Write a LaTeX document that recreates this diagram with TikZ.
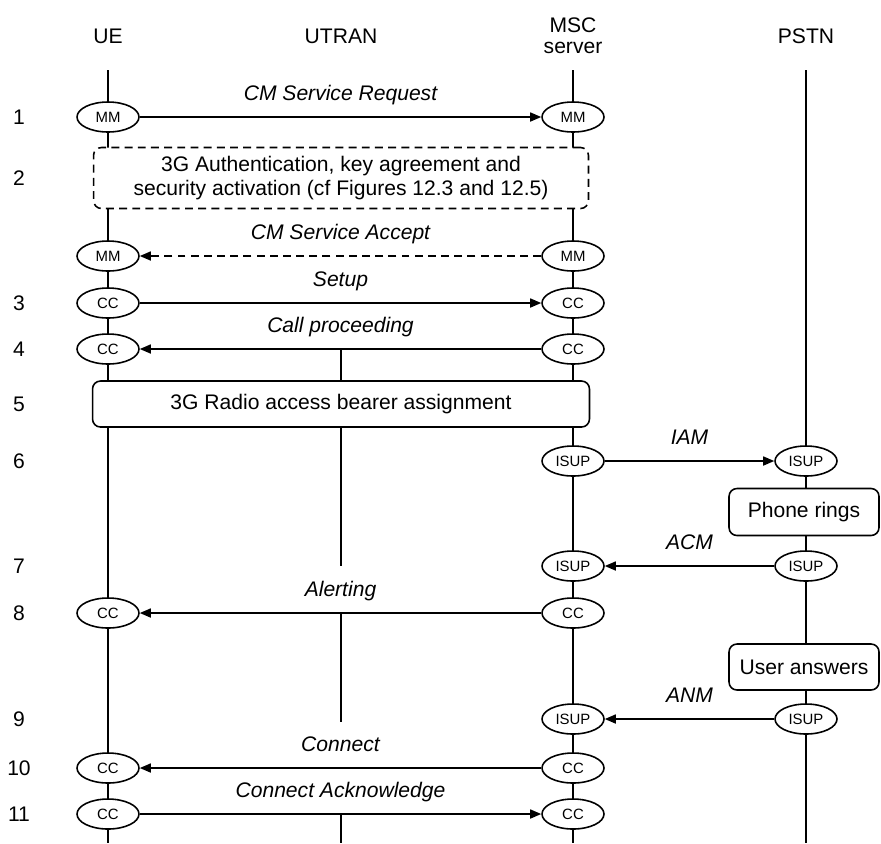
\documentclass[tikz,border=0pt]{standalone}
\usepackage{fontspec}
\setmainfont{Liberation Sans}
\usetikzlibrary{shapes, arrows.meta, calc, positioning}

\begin{document}
\begin{tikzpicture}[x=0.02cm, y=-0.02cm, >={Triangle[length=2.2mm, width=1.8mm]}, line width=0.9pt]
	\tikzstyle{entity} = [font=\fontsize{12}{12}\selectfont, align=center, inner sep=0pt]
	\tikzstyle{stepno} = [font=\fontsize{12}{14}\selectfont, inner sep=0pt]
	\tikzstyle{proto} = [draw, ellipse, fill=white, minimum width=1.24cm, minimum height=0.6cm, inner sep=0pt, font=\fontsize{8.5}{10}\selectfont]
	\tikzstyle{msg} = [font=\fontsize{12}{14}\selectfont\itshape, inner sep=0pt, anchor=base, yshift=0.34cm]
	\tikzstyle{proc} = [draw, fill=white, rounded corners=4.5pt, inner sep=0pt, align=center, font=\fontsize{12}{14}\selectfont]

	\useasboundingbox (0,0) rectangle (881,843);

	% entities and lifelines
	\node[entity] (ue) at (108,36) {UE};
	\node[entity] (utran) at (341,36) {UTRAN};
	\node[entity] (msc) at (573,36) {MSC\\server};
	\node[entity] (pstn) at (806,36) {PSTN};

	\coordinate (ue top) at (108,70);
	\coordinate (ue end) at (108,843);
	\coordinate (msc top) at (573,70);
	\coordinate (msc end) at (573,843);
	\coordinate (pstn top) at (806,70);
	\coordinate (pstn end) at (806,843);
	\draw (ue top) -- (ue end);
	\draw (msc top) -- (msc end);
	\draw (pstn top) -- (pstn end);

	% UTRAN only shows between the messages
	\coordinate (ut1) at (341,349);
	\coordinate (ut2) at (341,566);
	\coordinate (ut3) at (341,613);
	\coordinate (ut4) at (341,722);
	\coordinate (ut5) at (341,814);
	\coordinate (ut6) at (341,843);

	% step numbers
	\foreach \n/\y in {1/117, 2/178, 3/303, 4/349, 5/404, 6/461, 7/566, 8/613, 9/719, 10/768, 11/814}
		\node[stepno] (n\n) at (19,\y) {\n};

	% procedures
	\node[proc, dashed, dash pattern=on 4.5pt off 3pt, minimum width=9.9cm, minimum height=1.22cm] (auth) at (341,178)
		{3G Authentication, key agreement and\\security activation (cf Figures 12.3 and 12.5)};
	\node[proc, minimum width=9.94cm, minimum height=0.92cm] (rab) at (341,404) {3G Radio access bearer assignment};
	\node[proc, minimum width=3cm, minimum height=0.94cm] (rings) at (804,512) {Phone rings};
	\node[proc, minimum width=3cm, minimum height=0.92cm] (answers) at (804,667) {User answers};

	\draw (ut1) -- (rab.north);
	\draw (rab.south) -- (ut2);
	\draw (ut3) -- (ut4);
	\draw (ut5) -- (ut6);

	% protocol end points
	\node[proto] (mm1ue) at (108,117) {MM};
	\node[proto] (mm1msc) at (573,117) {MM};
	\node[proto] (mm2ue) at (108,256) {MM};
	\node[proto] (mm2msc) at (573,256) {MM};
	\node[proto] (cc3ue) at (108,303) {CC};
	\node[proto] (cc3msc) at (573,303) {CC};
	\node[proto] (cc4ue) at (108,349) {CC};
	\node[proto] (cc4msc) at (573,349) {CC};
	\node[proto] (isup6msc) at (573,461) {ISUP};
	\node[proto] (isup6pstn) at (806,461) {ISUP};
	\node[proto] (isup7msc) at (573,566) {ISUP};
	\node[proto] (isup7pstn) at (806,566) {ISUP};
	\node[proto] (cc8ue) at (108,613) {CC};
	\node[proto] (cc8msc) at (573,613) {CC};
	\node[proto] (isup9msc) at (573,719) {ISUP};
	\node[proto] (isup9pstn) at (806,719) {ISUP};
	\node[proto] (cc10ue) at (108,768) {CC};
	\node[proto] (cc10msc) at (573,768) {CC};
	\node[proto] (cc11ue) at (108,814) {CC};
	\node[proto] (cc11msc) at (573,814) {CC};

	% messages
	\path[->]
		(mm1ue) edge node[msg] {CM Service Request} (mm1msc)
		(mm2msc) edge[dashed, dash pattern=on 4.5pt off 3pt] node[msg] {CM Service Accept} (mm2ue)
		(cc3ue) edge node[msg] {Setup} (cc3msc)
		(cc4msc) edge node[msg] {Call proceeding} (cc4ue)
		(isup6msc) edge node[msg] {IAM} (isup6pstn)
		(isup7pstn) edge node[msg] {ACM} (isup7msc)
		(cc8msc) edge node[msg] {Alerting} (cc8ue)
		(isup9pstn) edge node[msg] {ANM} (isup9msc)
		(cc10msc) edge node[msg] {Connect} (cc10ue)
		(cc11ue) edge node[msg] {Connect Acknowledge} (cc11msc)
	;
\end{tikzpicture}
\end{document}
